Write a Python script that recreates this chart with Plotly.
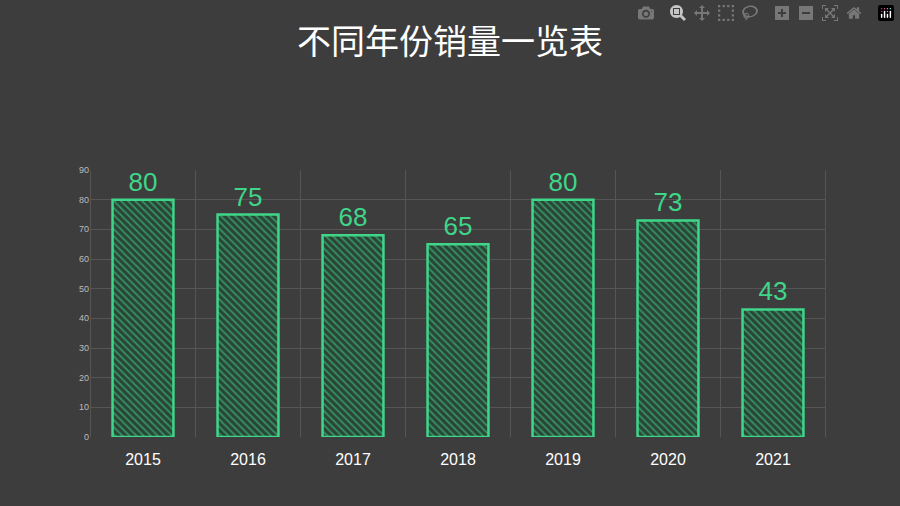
import plotly.graph_objects as go

years = ["2015", "2016", "2017", "2018", "2019", "2020", "2021"]
sales = [80, 75, 68, 65, 80, 73, 43]
green = "#3fd68a"

fig = go.Figure(go.Bar(
    x=years, y=sales, width=0.58,
    marker=dict(color="rgba(0,0,0,0)", line=dict(color=green, width=2.5),
                pattern=dict(shape="\\", fgcolor=green, bgcolor="#2a4436", size=5, solidity=0.4)),
    text=[str(v) for v in sales], textposition="outside",
    textfont=dict(color=green, size=26, family="Liberation Sans"),
    cliponaxis=False,
))

fig.update_layout(
    width=900, height=506,
    paper_bgcolor="#3d3d3d", plot_bgcolor="#3d3d3d",
    title=dict(text="不同年份销量一览表", x=0.5, y=0.94, xanchor="center",
               font=dict(color="white", size=34, family="Noto Sans CJK SC")),
    margin=dict(l=90, r=74, t=170, b=69),
    showlegend=False,
    bargap=0.42,
)
fig.update_xaxes(showgrid=False, tickfont=dict(color="white", size=16, family="Liberation Sans"),
                 showline=False, ticks="outside", ticklen=8, tickcolor="rgba(0,0,0,0)")
fig.update_yaxes(range=[0, 90], dtick=10, gridcolor="#555555", zeroline=False,
                 tickfont=dict(color="#bbbbbb", size=9, family="Liberation Sans"))
# vertical separators between categories
for i in range(len(years) + 1):
    fig.add_shape(type="line", xref="x", yref="paper", x0=i - 0.5, x1=i - 0.5, y0=0, y1=1,
                  line=dict(color="#555555", width=1), layer="below")

fig.write_html("out.html", post_script="document.body.style.margin='0';document.body.style.background='#3d3d3d';")
